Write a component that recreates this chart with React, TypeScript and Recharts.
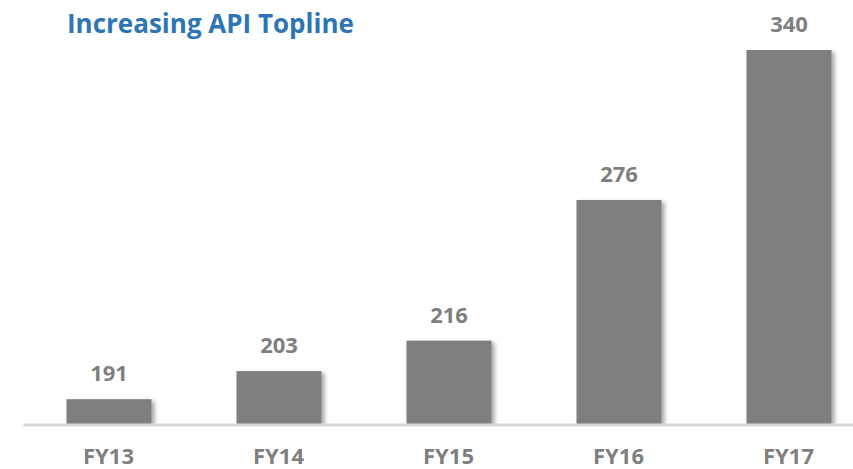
import React from 'react';
import { BarChart, Bar, XAxis, YAxis, LabelList } from 'recharts';

const categories = ['FY13', 'FY14', 'FY15', 'FY16', 'FY17'];
const values = [191, 203, 216, 276, 340];
const yDomain = [180, 340];

const data = categories.map((name, i) => ({ name, value: values[i] }));

const FONT = '"Open Sans", sans-serif';
const GRAY = '#7f7f7f';

const ShadowBar = (props: any) => {
  const { x, y, width, height, fill } = props;
  if (height <= 0) return null;
  return <rect x={x} y={y} width={width} height={height} fill={fill} filter="url(#barShadow)" />;
};

const CategoryTick = (props: any) => {
  const { x, y, payload } = props;
  return (
    <text x={x} y={y + 39} textAnchor="middle" fill={GRAY} fontFamily={FONT} fontWeight={700} fontSize={22}>
      {payload.value}
    </text>
  );
};

export default function App() {
  return (
    <div style={{ position: 'absolute', left: 0, top: 0, width: 853, height: 469, overflow: 'hidden', background: '#fff' }}>
      <svg width={0} height={0} style={{ position: 'absolute' }}>
        <defs>
          <filter id="barShadow" x="-20%" y="-20%" width="150%" height="150%">
            <feDropShadow dx={3} dy={2} stdDeviation={2} floodColor="#000" floodOpacity={0.35} />
          </filter>
        </defs>
      </svg>
      <div
        style={{
          position: 'absolute',
          left: 67,
          top: 10,
          fontFamily: FONT,
          fontWeight: 700,
          fontSize: 26,
          lineHeight: '26px',
          color: '#2E75B6',
          whiteSpace: 'nowrap',
        }}
      >
        Increasing API Topline
      </div>
      <BarChart
        width={880}
        height={469}
        data={data}
        margin={{ top: 50, right: 6.5, bottom: 0, left: 23.5 }}
        barSize={85}
      >
        <XAxis
          dataKey="name"
          axisLine={{ stroke: '#d9d9d9', strokeWidth: 3 }}
          tickLine={false}
          tickSize={0}
          tickMargin={0}
          height={44}
          interval={0}
          tick={<CategoryTick />}
        />
        <YAxis hide domain={yDomain} allowDataOverflow />
        <Bar dataKey="value" fill={GRAY} isAnimationActive={false} shape={<ShadowBar />}>
          <LabelList
            dataKey="value"
            position="top"
            offset={18}
            fill={GRAY}
            fontFamily={FONT}
            fontWeight={700}
            fontSize={22}
          />
        </Bar>
      </BarChart>
    </div>
  );
}
